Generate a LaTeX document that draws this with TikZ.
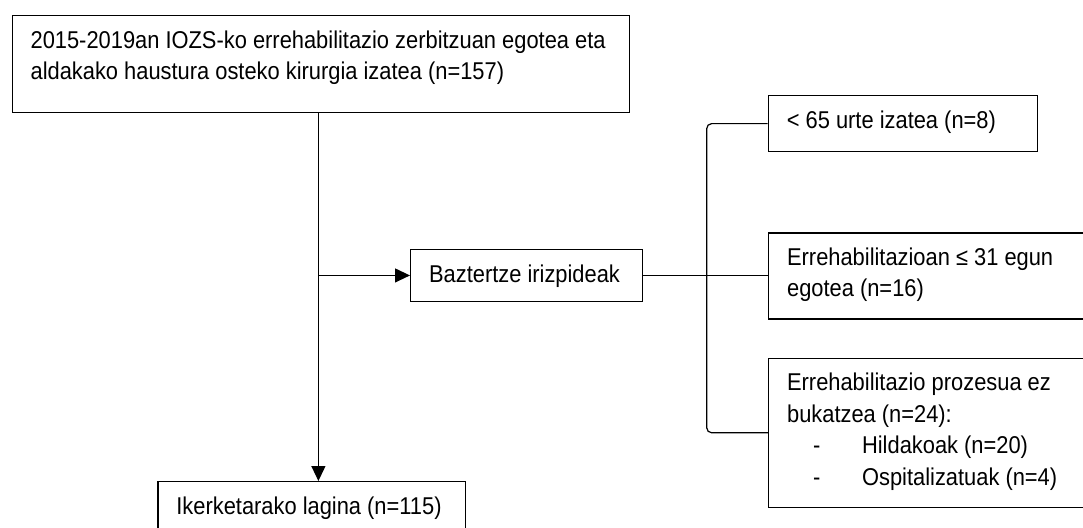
\documentclass[tikz,border=0pt]{standalone}
\usepackage{fontspec}
\setmainfont{Liberation Sans}[FakeStretch=0.9]
\usetikzlibrary{arrows.meta}
\newcommand\bxt[3]{\parbox[c][#2][t]{#1}{\raggedright\leftskip=18.5pt\relax\rule{0pt}{32.5pt}#3}}
\begin{document}
\begin{tikzpicture}[x=1pt,y=-1pt,
  box/.style={draw=black, line width=1.2pt, inner sep=0pt, anchor=north west,
    font=\fontsize{24.3}{31.5}\selectfont},
  conn/.style={line width=1.2pt},
  arr/.style={conn, -{Triangle[length=15pt,width=14pt]}}]
\useasboundingbox (0,0) rectangle (1083,527);
\clip (0,0) rectangle (1083,527);
\node[box] (top) at (11.5,15) {\bxt{617.5pt}{97pt}{2015-2019an IOZS-ko errehabilitazio zerbitzuan egotea eta\\aldakako haustura osteko kirurgia izatea (n=157)}};
\node[box] (b1) at (767.7,95) {\bxt{269pt}{56pt}{< 65 urte izatea (n=8)}};
\node[box] (b2) at (768,232.3) {\bxt{340pt}{86pt}{Errehabilitazioan ≤ 31 egun\\egotea (n=16)}};
\node[box] (b3) at (768,357.7) {\bxt{340pt}{149pt}{Errehabilitazio prozesua ez\\bukatzea (n=24):\\\makebox[75pt][l]{\hspace*{26pt}-}Hildakoak (n=20)\\\makebox[75pt][l]{\hspace*{26pt}-}Ospitalizatuak (n=4)}};
\node[box] (bz) at (410,249) {\bxt{231.7pt}{51.7pt}{Baztertze irizpideak}};
\node[box] (bot) at (157.3,481) {\bxt{307.7pt}{80pt}{Ikerketarako lagina (n=115)}};
\coordinate (tr) at (318.4,0);
\coordinate (br) at (706.7,0);
\draw[arr] (top.south -| tr) -- (bot.north -| tr);
\draw[arr] (tr |- bz.west) -- (bz.west);
\draw[conn] (bz.east) -- (bz.east -| b2.west);
\draw[conn, rounded corners=5pt] (b1.west) -- (b1.west -| br) -- (b3.west -| br) -- (b3.west);
\end{tikzpicture}
\end{document}
